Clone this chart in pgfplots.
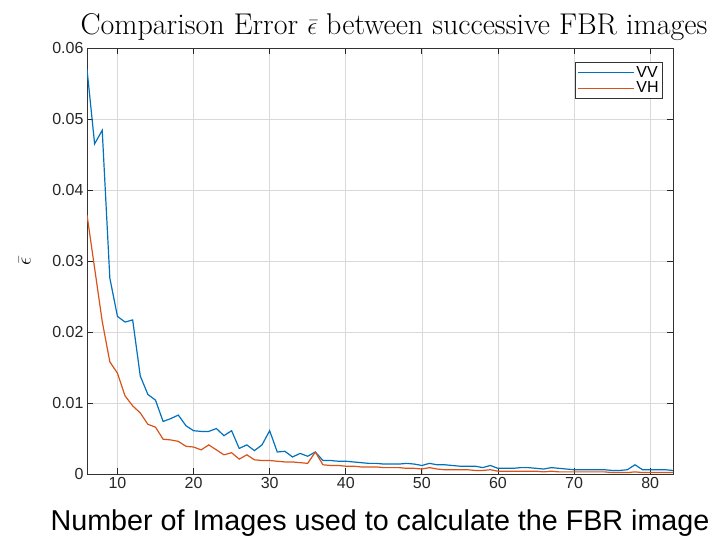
\documentclass[border=0pt]{standalone}
\usepackage{fontspec}
\newfontfamily\arialfont{Liberation Sans}
\usepackage{pgfplots}
\pgfplotsset{compat=1.18}
\definecolor{mblue}{rgb}{0,0.447,0.741}
\definecolor{morange}{rgb}{0.85,0.325,0.098}
\begin{document}
\begin{tikzpicture}
\begin{axis}[
  name=ax,
  scale only axis,
  width=586pt, height=426pt,
  xmin=6, xmax=83, ymin=0, ymax=0.06,
  xtick={10,20,...,80},
  ytick={0,0.01,...,0.06},
  scaled y ticks=false,
  yticklabel style={/pgf/number format/fixed,/pgf/number format/precision=2},
  /pgf/number format/assume math mode=true,
  every tick label/.append style={font=\arialfont\fontsize{16}{16}\selectfont, text=black!85},
  tick align=inside,
  major tick length=6pt,
  every tick/.style={black!85, line width=0.8pt},
  axis line style={black!80, line width=0.8pt},
  grid=major,
  major grid style={black!15, line width=0.7pt},
  title={Comparison Error $\bar\epsilon$ between successive FBR images},
  title style={font=\rmfamily\fontsize{30}{30}\selectfont, yshift=-2pt, xshift=14pt},
  xlabel={Number of Images used to calculate the FBR image},
  xlabel style={font=\arialfont\fontsize{28.7}{28.7}\selectfont, yshift=-14pt},
  ylabel={$\bar\epsilon$},
  ylabel style={font=\fontsize{22}{22}\selectfont, at={(axis description cs:-0.106,0.5)}, anchor=center},
  legend style={at={(1,1)}, anchor=north east, xshift=-10pt, yshift=-14pt,
    font=\arialfont\fontsize{16}{16}\selectfont, draw=black!80, line width=0.8pt,
    inner sep=2pt, row sep=-1pt},
  legend cell align=left,
  legend image code/.code={\draw[#1, line width=1.2pt] (0pt,0pt) -- (56pt,0pt);},
]
\addplot[mblue, line width=1.2pt] coordinates {
(6,0.0570) (7,0.0465) (8,0.0484) (9,0.0276) (10,0.0222) (11,0.0214) (12,0.0217)
(13,0.0138) (14,0.0112) (15,0.0104) (16,0.0074) (17,0.0078) (18,0.0083) (19,0.0068)
(20,0.0061) (21,0.0060) (22,0.0060) (23,0.0064) (24,0.0054) (25,0.0061) (26,0.0036)
(27,0.0041) (28,0.0033) (29,0.0041) (30,0.0061) (31,0.0031) (32,0.0032) (33,0.0024)
(34,0.0029) (35,0.0025) (36,0.0031) (37,0.0019) (38,0.0019) (39,0.0018) (40,0.0018)
(41,0.0017) (42,0.0016) (43,0.0015) (44,0.0015) (45,0.0014) (46,0.0014) (47,0.0014)
(48,0.0015) (49,0.0014) (50,0.0012) (51,0.0015) (52,0.0013) (53,0.0013) (54,0.0012)
(55,0.0011) (56,0.0011) (57,0.0011) (58,0.0009) (59,0.0012) (60,0.0008) (61,0.0008)
(62,0.0008) (63,0.0009) (64,0.0009) (65,0.0008) (66,0.0007) (67,0.0009) (68,0.0008)
(69,0.0007) (70,0.0006) (71,0.0006) (72,0.0006) (73,0.0006) (74,0.0006) (75,0.0005)
(76,0.0005) (77,0.0006) (78,0.0013) (79,0.0006) (80,0.0006) (81,0.0006) (82,0.0006)
(83,0.0005)
};
\addlegendentry{VV}
\addplot[morange, line width=1.2pt] coordinates {
(6,0.0365) (7,0.0290) (8,0.0215) (9,0.0158) (10,0.0142) (11,0.0110) (12,0.0096)
(13,0.0086) (14,0.0070) (15,0.0066) (16,0.0049) (17,0.0048) (18,0.0046) (19,0.0039)
(20,0.0038) (21,0.0034) (22,0.0041) (23,0.0034) (24,0.0027) (25,0.0030) (26,0.0021)
(27,0.0027) (28,0.0020) (29,0.0019) (30,0.0019) (31,0.0018) (32,0.0017) (33,0.0017)
(34,0.0016) (35,0.0015) (36,0.0031) (37,0.0013) (38,0.0012) (39,0.0012) (40,0.0011)
(41,0.0011) (42,0.0010) (43,0.0010) (44,0.0010) (45,0.0009) (46,0.0009) (47,0.0009)
(48,0.0008) (49,0.0008) (50,0.0007) (51,0.0009) (52,0.0007) (53,0.0006) (54,0.0006)
(55,0.0006) (56,0.0006) (57,0.0005) (58,0.0005) (59,0.0006) (60,0.0004) (61,0.0004)
(62,0.0004) (63,0.0004) (64,0.0004) (65,0.0004) (66,0.0003) (67,0.0004) (68,0.0003)
(69,0.0003) (70,0.0003) (71,0.0003) (72,0.0003) (73,0.0003) (74,0.0003) (75,0.0002)
(76,0.0002) (77,0.0002) (78,0.0003) (79,0.0002) (80,0.0002) (81,0.0002) (82,0.0002)
(83,0.0002)
};
\addlegendentry{VH}
\end{axis}
\pgfresetboundingbox
\path ([xshift=-87pt,yshift=-61pt]ax.south west) rectangle ([xshift=39pt,yshift=48pt]ax.north east);
\end{tikzpicture}
\end{document}
